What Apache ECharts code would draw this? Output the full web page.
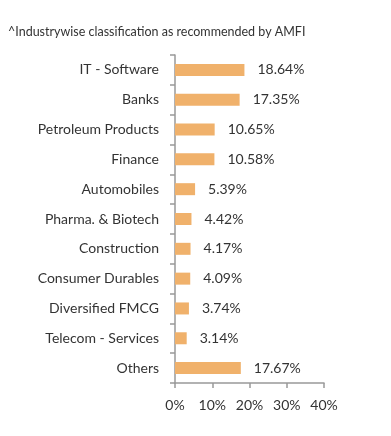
<!DOCTYPE html>
<html><head><meta charset="utf-8">
<script src="https://cdn.jsdelivr.net/npm/echarts@6/dist/echarts.min.js"></script>
<style>html,body{margin:0;padding:0;background:#fff}#c{width:391px;height:436px}</style>
</head><body><div id="c"></div>
<script>
const categories = ["IT - Software","Banks","Petroleum Products","Finance","Automobiles","Pharma. & Biotech","Construction","Consumer Durables","Diversified FMCG","Telecom - Services","Others"];
const values = [18.64,17.35,10.65,10.58,5.39,4.42,4.17,4.09,3.74,3.14,17.67];
const xTicks = [0,10,20,30,40];
const titleText = "^Industrywise classification as recommended by AMFI";

const chart = echarts.init(document.getElementById('c'), null, {renderer:'canvas'});
chart.setOption({
  animation:false,
  backgroundColor:'#fff',
  title:{text:titleText,left:3,top:20,textStyle:{fontFamily:'Lato',fontSize:12.5,fontWeight:'normal',color:'#333'}},
  grid:{left:175,right:67,top:55,bottom:53,containLabel:false},
  xAxis:{type:'value',min:xTicks[0],max:xTicks[xTicks.length-1],interval:10,
    axisLine:{show:true,lineStyle:{color:'#999',width:1.5}},
    axisTick:{show:true,length:5,lineStyle:{color:'#999',width:1.5}},
    splitLine:{show:false},
    axisLabel:{margin:15,fontFamily:'Lato',fontSize:14,color:'#333',formatter:v=>v+'%'}},
  yAxis:{type:'category',data:categories,inverse:true,
    axisLine:{show:true,lineStyle:{color:'#999',width:1.5}},
    axisTick:{show:true,length:5,lineStyle:{color:'#999',width:1.5}},
    axisLabel:{margin:16,fontFamily:'Lato',fontSize:14,color:'#333'}},
  series:[{type:'bar',data:values,barWidth:12,
    itemStyle:{color:'#F0B16B'},
    label:{show:true,position:'right',distance:13,fontFamily:'Lato',fontSize:14,color:'#333',formatter:p=>p.value.toFixed(2)+'%'}}]
});
</script></body></html>
